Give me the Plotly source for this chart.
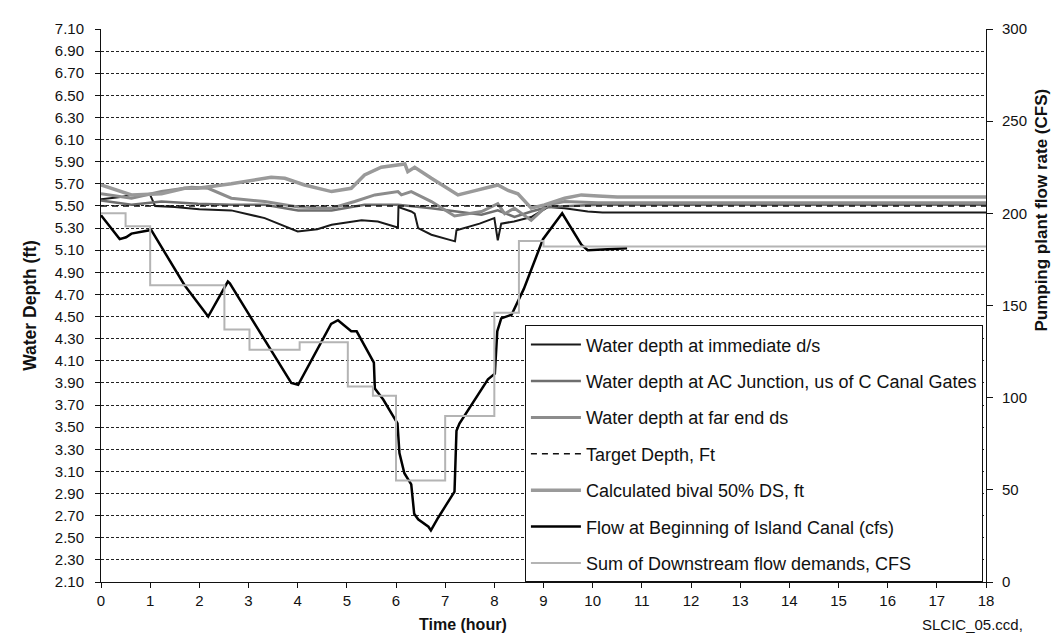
import plotly.graph_objects as go

# ---------------- data ----------------
# Water depth at immediate d/s (ft)
t_imm = [0, 0.4, 0.6, 1.0, 1.1, 1.5, 2.0, 2.65, 3.33, 4.0, 4.4, 4.69, 5.3, 5.63, 6.0, 6.04, 6.05, 6.31, 6.38, 6.45,
         6.72, 7.2, 7.23, 7.7, 8.0, 8.07, 8.14, 8.4, 8.75, 9.09, 9.43, 9.9, 10.2, 18]
d_imm = [5.56, 5.58, 5.60, 5.60, 5.50, 5.49, 5.47, 5.46, 5.39, 5.27, 5.29, 5.33, 5.37, 5.36, 5.31, 5.31, 5.49, 5.45, 5.43, 5.30,
         5.24, 5.18, 5.28, 5.34, 5.39, 5.19, 5.34, 5.36, 5.40, 5.49, 5.48, 5.45, 5.44, 5.44]

# Water depth at AC Junction, us of C Canal Gates (ft)
t_ac = [0, 0.62, 1.23, 1.97, 2.65, 3.33, 4.01, 4.69, 5.36, 6.04, 6.72, 7.19, 7.74, 8.07, 8.41, 8.75, 9.09, 10.11, 18]
d_ac = [5.55, 5.51, 5.54, 5.52, 5.51, 5.51, 5.46, 5.46, 5.51, 5.51, 5.48, 5.45, 5.42, 5.46, 5.40, 5.45, 5.49, 5.51, 5.51]

# Water depth at far end ds (ft)
t_far = [0, 0.62, 1.23, 1.84, 2.18, 2.65, 3.33, 4.01, 4.69, 5.16, 5.57, 6.04, 6.11, 6.31, 6.72, 7.19, 7.74, 8.07,
         8.21, 8.41, 8.75, 9.09, 9.43, 10.11, 18]
d_far = [5.61, 5.57, 5.63, 5.67, 5.66, 5.57, 5.54, 5.49, 5.48, 5.54, 5.60, 5.63, 5.60, 5.63, 5.54, 5.41, 5.45, 5.52,
         5.43, 5.48, 5.37, 5.51, 5.54, 5.53, 5.53]

# Target Depth (ft)
t_tgt = [0, 18]
d_tgt = [5.50, 5.50]

# Calculated bival 50% DS (ft)
t_biv = [0, 0.62, 1.23, 1.70, 1.97, 2.65, 3.46, 3.74, 4.14, 4.69, 5.09, 5.36, 5.70, 6.04, 6.18, 6.24, 6.38, 6.72,
         7.06, 7.26, 7.53, 8.07, 8.28, 8.48, 8.75, 9.02, 9.43, 9.77, 10.11, 10.5, 18]
d_biv = [5.69, 5.60, 5.61, 5.66, 5.66, 5.70, 5.76, 5.75, 5.69, 5.63, 5.66, 5.78, 5.85, 5.87, 5.88, 5.81, 5.85, 5.75,
         5.66, 5.60, 5.63, 5.69, 5.64, 5.61, 5.48, 5.51, 5.57, 5.60, 5.59, 5.58, 5.58]

# Flow at Beginning of Island Canal (cfs)
t_flow = [0, 0.38, 0.51, 0.62, 1.02, 1.70, 2.18, 2.58, 2.62, 3.87, 4.01, 4.68, 4.82, 5.09, 5.2, 5.55, 5.57, 5.74,
          6.03, 6.07, 6.17, 6.31, 6.37, 6.45, 6.66, 6.71, 6.86, 7.19, 7.23, 7.29, 7.87, 8.01, 8.06, 8.14, 8.35,
          8.6, 8.99, 9.38, 9.77, 9.9, 10.7]
q_flow = [199, 186, 187, 189, 191, 161, 144, 163, 162, 108, 107, 140, 142, 136, 136, 119, 105, 99,
          86, 70, 59, 53, 37, 34, 30, 28, 35, 49, 82, 86, 110, 113, 136, 143, 145,
          159, 186, 200, 183, 180, 181]

# Sum of Downstream flow demands (cfs) - step series
t_sum = [0, 0.5, 0.5, 1.0, 1.0, 2.51, 2.51, 3.02, 3.02, 4.04, 4.04, 5.02, 5.02, 5.53, 5.53, 6.0, 6.0, 7.0, 7.0,
         8.0, 8.0, 8.5, 8.5, 9.0, 9.0, 18]
q_sum = [200, 200, 193, 193, 161, 161, 137, 137, 126, 126, 130, 130, 106, 106, 101, 101, 55, 55, 90,
         90, 146, 146, 185, 185, 182, 182]

# axis ticks
x_ticks = list(range(0, 19))
y_ticks = [round(2.1 + 0.2 * i, 2) for i in range(26)]
y2_ticks = [0, 50, 100, 150, 200, 250, 300]

# ---------------- figure ----------------
FONT = "Liberation Sans, Arial, sans-serif"
fig = go.Figure()

fig.add_trace(go.Scatter(x=t_imm, y=d_imm, mode="lines", name="Water depth at immediate d/s",
                         line=dict(color="#1a1a1a", width=2), legendgroup="a"))
fig.add_trace(go.Scatter(x=t_ac, y=d_ac, mode="lines", name="Water depth at AC Junction, us of C Canal Gates",
                         line=dict(color="#6e6e6e", width=2.5), legendgroup="b"))
fig.add_trace(go.Scatter(x=t_far, y=d_far, mode="lines", name="Water depth at far end ds",
                         line=dict(color="#8c8c8c", width=3), legendgroup="c"))
fig.add_trace(go.Scatter(x=t_tgt, y=d_tgt, mode="lines", name="Target Depth, Ft",
                         line=dict(color="#111111", width=1.5, dash="6px,5px"), legendgroup="d"))
fig.add_trace(go.Scatter(x=t_biv, y=d_biv, mode="lines", name="Calculated bival 50% DS, ft",
                         line=dict(color="#9a9a9a", width=3.5), legendgroup="e"))
fig.add_trace(go.Scatter(x=t_flow, y=q_flow, mode="lines", name="Flow at Beginning of Island Canal (cfs)",
                         line=dict(color="#000000", width=2.5), yaxis="y2", legendgroup="f"))
fig.add_trace(go.Scatter(x=t_sum, y=q_sum, mode="lines", name="Sum of Downstream flow demands, CFS",
                         line=dict(color="#b4b4b4", width=2), yaxis="y2", legendgroup="g"))

fig.update_layout(
    width=1060, height=634,
    margin=dict(l=93, r=82, t=16, b=60),
    paper_bgcolor="white", plot_bgcolor="white",
    font=dict(family=FONT, size=15, color="#111111"),
    showlegend=True,
    legend=dict(x=0.479, y=0.464, xanchor="left", yanchor="top",
                bgcolor="white", bordercolor="#111111", borderwidth=1,
                font=dict(size=18, family=FONT, color="#111111"),
                itemwidth=50,
                traceorder="grouped", tracegroupgap=10),
    xaxis=dict(range=[0, 18], tickvals=x_ticks, ticktext=[str(v) for v in x_ticks],
               showgrid=False, zeroline=False, showline=True, linecolor="#111111", linewidth=1,
               ticks="outside", ticklen=5, tickcolor="#111111",
               tickfont=dict(size=15)),
    yaxis=dict(range=[2.1, 7.1], tickvals=y_ticks, ticktext=[f"{v:.2f}" for v in y_ticks],
               showgrid=True, gridcolor="#222222", griddash="3px,2px", gridwidth=1,
               zeroline=False, showline=True, linecolor="#111111", linewidth=1,
               ticks="outside", ticklen=5, tickcolor="#111111", tickfont=dict(size=15),
               ticklabelstandoff=8),
    yaxis2=dict(range=[0, 300], tickvals=y2_ticks, overlaying="y", side="right",
                showgrid=False, zeroline=False, showline=True, linecolor="#111111", linewidth=1,
                ticks="outside", ticklen=6, tickcolor="#111111", tickfont=dict(size=15),
                ticklabelstandoff=6),
    annotations=[
        dict(text="<b>Time (hour)</b>", xref="paper", yref="paper", x=0.409, y=-0.076,
             xanchor="center", yanchor="middle", showarrow=False, font=dict(size=16)),
        dict(text="SLCIC_05.ccd,", xref="paper", yref="paper", x=0.985, y=-0.076,
             xanchor="center", yanchor="middle", showarrow=False, font=dict(size=15)),
        dict(text="<b>Water Depth (ft)</b>", xref="paper", yref="paper", x=-0.081, y=0.5,
             xanchor="center", yanchor="middle", showarrow=False, textangle=-90, font=dict(size=17.5)),
        dict(text="<b>Pumping plant flow rate (CFS)</b>", xref="paper", yref="paper", x=1.063, y=0.673,
             xanchor="center", yanchor="middle", showarrow=False, textangle=-90, font=dict(size=17)),
    ],
)

fig.write_html("out.html")
